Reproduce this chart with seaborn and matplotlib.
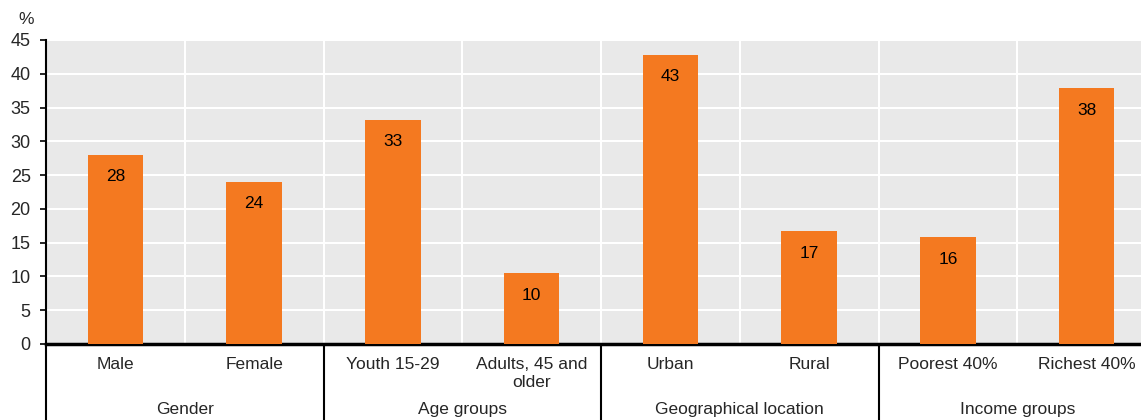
import seaborn as sns
import matplotlib.pyplot as plt
import matplotlib.transforms as mtransforms

categories = ['Male', 'Female', 'Youth 15-29', 'Adults, 45 and\nolder',
              'Urban', 'Rural', 'Poorest 40%', 'Richest 40%']
values = [28.0, 24.0, 33.2, 10.5, 42.8, 16.7, 15.8, 37.9]
labels = ['28', '24', '33', '10', '43', '17', '16', '38']
groups = ['Gender', 'Age groups', 'Geographical location', 'Income groups']

sns.set_style('white')
plt.rcParams['font.family'] = ['Liberation Sans Narrow', 'Liberation Sans', 'DejaVu Sans']

W, H = 1141, 420
fig = plt.figure(figsize=(W / 100, H / 100), dpi=100)
# plot area runs past the right edge of the picture, as in the reference
ax = fig.add_axes([46 / W, (H - 344) / H, (1156 - 46) / W, (344 - 40) / H])

sns.barplot(x=categories, y=values, color='#F47920', width=0.4,
            saturation=1, linewidth=0, edgecolor='none', ax=ax, zorder=3)

ax.set_facecolor('#e9e9e9')
ax.set_xlim(-0.5, len(categories) - 0.5)
ax.set_ylim(0, 45)
ax.set_yticks(range(0, 46, 5))
ax.set_xticks([i + 0.5 for i in range(len(categories) - 1)], minor=True)
ax.grid(axis='y', color='white', linewidth=1.5, zorder=0)
ax.grid(axis='x', which='minor', color='white', linewidth=1.5, zorder=0)
ax.grid(axis='x', which='major', visible=False)
ax.set_axisbelow(True)

for s in ['top', 'right']:
    ax.spines[s].set_visible(False)
ax.spines['left'].set_color('black')
ax.spines['left'].set_linewidth(1.5)
ax.spines['bottom'].set_color('black')
ax.spines['bottom'].set_linewidth(2.5)

ax.tick_params(axis='y', which='major', left=True, length=4, width=1.2,
               color='black', labelsize=13, pad=7)
ax.tick_params(axis='x', which='both', bottom=False, labelsize=12.5, pad=6)
ax.set_xlabel('')
ax.set_ylabel('')

# value labels inside the bars
for i, (v, lab) in enumerate(zip(values, labels)):
    ax.annotate(lab, (i, v), xytext=(0, -10.5), textcoords='offset points',
                ha='center', va='top', fontsize=12.5, color='black', zorder=4)

# group separators and group names below the axis
trans = mtransforms.blended_transform_factory(ax.transData, ax.transAxes)
for xb in [-0.5, 1.5, 3.5, 5.5]:
    ax.plot([xb, xb], [0, -0.3], color='black', linewidth=1.5,
            transform=trans, clip_on=False)
for g, name in enumerate(groups):
    ax.text(2 * g + 0.5, -(402 - 344) / 304, name, transform=trans,
            ha='center', va='top', fontsize=12.5)

fig.text(26 / W, 1 - 19 / H, '%', ha='center', va='center', fontsize=12.5)

fig.savefig('out.png', dpi=100)
